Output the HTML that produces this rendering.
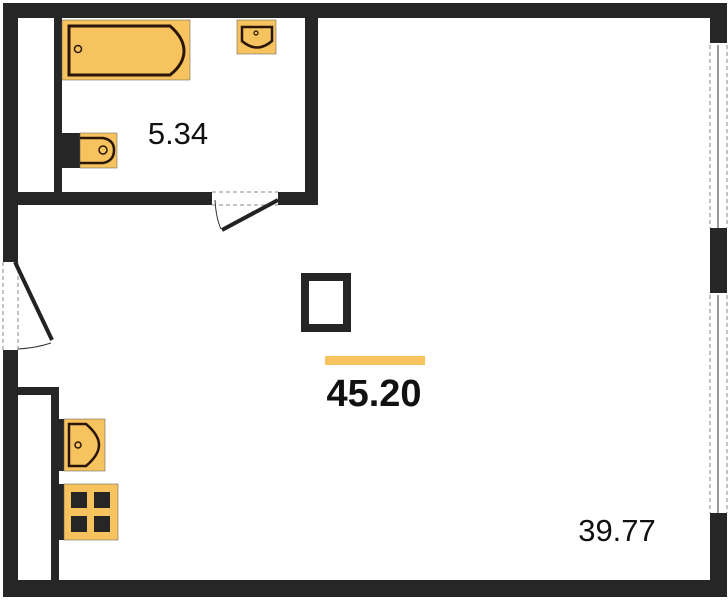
<!DOCTYPE html>
<html><head><meta charset="utf-8"><style>
html,body{margin:0;padding:0;background:#fff;width:728px;height:600px;overflow:hidden}
</style></head><body>
<svg width="728" height="600" xmlns="http://www.w3.org/2000/svg">
<g fill="#262626">
<!-- outer walls -->
<rect x="3" y="3" width="724" height="15"/>
<rect x="3" y="3" width="15" height="259"/>
<rect x="3" y="350" width="15" height="247"/>
<rect x="3" y="580" width="724" height="17"/>
<rect x="710" y="3" width="17" height="40"/>
<rect x="710" y="228" width="17" height="65"/>
<rect x="710" y="513" width="17" height="84"/>
<!-- bathroom -->
<rect x="54" y="18" width="8" height="174"/>
<rect x="305" y="18" width="13" height="187"/>
<rect x="18" y="192" width="194" height="13"/>
<rect x="278" y="192" width="40" height="13"/>
<!-- kitchen niche -->
<rect x="18" y="387" width="41" height="8"/>
<rect x="51" y="387" width="8" height="193"/>
</g>
<!-- windows -->
<g stroke="#888" stroke-width="1" stroke-dasharray="4,3" fill="none">
<line x1="710" y1="45" x2="710" y2="228"/><line x1="727" y1="45" x2="727" y2="228"/>
<line x1="710" y1="295" x2="710" y2="513"/><line x1="727" y1="295" x2="727" y2="513"/>
<line x1="3" y1="262" x2="3" y2="350"/><line x1="18" y1="262" x2="18" y2="350"/>
<line x1="212" y1="192" x2="278" y2="192"/><line x1="212" y1="205" x2="278" y2="205"/>
</g>
<g stroke="#555" stroke-width="1.2"><line x1="718" y1="45" x2="718" y2="228"/><line x1="718" y1="295" x2="718" y2="513"/></g>
<!-- doors -->
<line x1="15" y1="262" x2="52" y2="340" stroke="#222" stroke-width="4"/>
<path d="M18 349 Q36 348 51 343" stroke="#333" fill="none" stroke-width="1"/>
<line x1="278" y1="200" x2="222" y2="230" stroke="#222" stroke-width="4"/>
<path d="M215 200 Q216 218 221 229" stroke="#333" fill="none" stroke-width="1"/>
<!-- bath -->
<rect x="62" y="20" width="128" height="60" fill="#f7c35f" stroke="#555" stroke-width="0.5"/>
<path d="M69 26 H170 Q184 38 184 51 Q184 64 170 75 H69 Z" fill="none" stroke="#2a1608" stroke-width="3"/>
<circle cx="78" cy="49" r="3.5" fill="none" stroke="#2a1608" stroke-width="1.5"/>
<!-- bath sink -->
<rect x="237" y="20" width="39" height="34" fill="#f7c35f" stroke="#555" stroke-width="0.5"/>
<path d="M242 27 H272 V41 Q257 54 242 41 Z" fill="none" stroke="#2a1608" stroke-width="2.5"/>
<circle cx="256" cy="33" r="2" fill="none" stroke="#2a1608" stroke-width="1.2"/>
<!-- toilet -->
<rect x="62" y="133" width="18" height="35" fill="#262626"/>
<rect x="80" y="133" width="37" height="35" fill="#f7c35f" stroke="#555" stroke-width="0.5"/>
<path d="M80 138 H103 Q114 140 114 150 Q114 161 103 163 H80" fill="none" stroke="#2a1608" stroke-width="2.5"/>
<circle cx="103" cy="150" r="4" fill="none" stroke="#2a1608" stroke-width="1.5"/>
<!-- kitchen sink -->
<rect x="59" y="419" width="5" height="52" fill="#262626"/>
<rect x="64" y="419" width="41" height="52" fill="#f7c35f" stroke="#555" stroke-width="0.5"/>
<path d="M69 424 H86 Q99 435 99 445 Q99 455 86 466 H69 Z" fill="none" stroke="#2a1608" stroke-width="2.5"/>
<circle cx="78" cy="445" r="3" fill="none" stroke="#2a1608" stroke-width="1.5"/>
<!-- stove -->
<rect x="59" y="484" width="5" height="56" fill="#262626"/>
<rect x="64" y="484" width="54" height="56" fill="#f7c35f" stroke="#555" stroke-width="0.5"/>
<g fill="#262626"><rect x="71" y="492" width="16" height="16"/><rect x="94" y="492" width="16" height="16"/><rect x="71" y="516" width="16" height="16"/><rect x="94" y="516" width="16" height="16"/></g>
<!-- column -->
<rect x="305" y="277" width="42" height="51" fill="none" stroke="#262626" stroke-width="8"/>
<rect x="325" y="356" width="100" height="9" fill="#f7c35f"/>
<g font-family="Liberation Sans, sans-serif" fill="#111">
<text x="178" y="144" font-size="31" text-anchor="middle">5.34</text>
<text x="374" y="406" font-size="38" font-weight="bold" text-anchor="middle">45.20</text>
<text x="617" y="541" font-size="31" text-anchor="middle">39.77</text>
</g>
</svg>
</body></html>
